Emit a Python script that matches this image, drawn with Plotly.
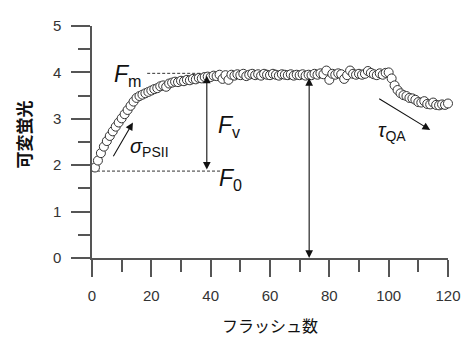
import plotly.graph_objects as go

flash = list(range(1, 121))
fluor = [
    1.95, 2.10, 2.26, 2.40, 2.52, 2.63, 2.73, 2.83, 2.92, 3.01,
    3.10, 3.19, 3.28, 3.37, 3.45, 3.49, 3.52, 3.55, 3.58, 3.61,
    3.64, 3.66, 3.70, 3.72, 3.69, 3.76, 3.78, 3.80, 3.79, 3.82,
    3.81, 3.84, 3.83, 3.86, 3.85, 3.88, 3.87, 3.90, 3.91, 3.90,
    3.93, 3.92, 3.95, 3.86, 3.94, 3.84, 3.95, 3.93, 3.96, 3.94,
    3.97, 3.92, 3.95, 3.97, 3.94, 3.96, 3.93, 3.97, 3.95, 3.94,
    3.97, 3.95, 3.93, 3.96, 3.95, 3.94, 3.96, 3.93, 3.95, 3.94,
    3.96, 3.93, 3.95, 3.94, 3.97, 3.95, 3.98, 3.96, 4.04, 3.84,
    3.97, 3.95, 3.98, 3.96, 3.86, 3.94, 4.04, 3.97, 3.95, 3.97,
    3.95, 3.97, 4.03, 3.99, 3.96, 3.94, 3.98, 3.95, 3.99, 4.00,
    3.87, 3.72, 3.62, 3.55, 3.51, 3.49, 3.45, 3.44, 3.41, 3.36,
    3.35, 3.38, 3.32, 3.31, 3.35, 3.30, 3.29, 3.31, 3.30, 3.33,
]

x_ticks = [0, 20, 40, 60, 80, 100, 120]
y_ticks = [0, 1, 2, 3, 4, 5]

F0 = 1.873
Fm = 3.98
x_title = "フラッシュ数"
y_title = "可変蛍光"

FONT = "Arial, Liberation Sans, sans-serif"
CJK = "Noto Sans CJK JP"
AX = "#555555"

fig = go.Figure()
fig.add_trace(go.Scatter(
    x=flash, y=fluor, mode="markers",
    marker=dict(symbol="circle", size=9, color="white",
                line=dict(color="#333333", width=1)),
    showlegend=False, cliponaxis=False,
))

# dashed reference lines
fig.add_shape(type="line", x0=0, x1=43.5, y0=F0, y1=F0, layer="below",
              line=dict(color="#333", width=1, dash="3px,2px"))
fig.add_shape(type="line", x0=18.6, x1=45, y0=Fm, y1=Fm, layer="below",
              line=dict(color="#333", width=1, dash="3px,2px"))

def arrow(x0, y0, x1, y1, both=False):
    fig.add_annotation(x=x1, y=y1, ax=x0, ay=y0, xref="x", yref="y",
                       axref="x", ayref="y", text="", showarrow=True,
                       arrowhead=2, arrowsize=1.4, arrowwidth=1.1,
                       arrowcolor="#111",
                       arrowside="end+start" if both else "end",
                       startarrowhead=2, startarrowsize=1.4)

arrow(38.7, F0, 38.7, 3.93, both=True)
arrow(73.2, 3.91, 73.2, 0.0, both=True)
arrow(6.9, 2.16, 13.8, 2.92)
arrow(96.3, 3.45, 114.0, 2.76)

def label(x, y, text):
    fig.add_annotation(x=x, y=y, xref="x", yref="y", text=text,
                       showarrow=False, xanchor="left", yanchor="middle",
                       font=dict(family=FONT, size=23, color="#111"))

label(6.6, 3.93, "<i>F</i><sub>m</sub>")
label(42.0, 1.70, "<i>F</i><sub>0</sub>")
label(41.9, 2.83, "<i>F</i><sub>v</sub>")
fig.add_annotation(x=12.3, y=2.38, xref="x", yref="y", text="<i>σ</i><sub>PSII</sub>",
                   showarrow=False, xanchor="left", yanchor="middle",
                   font=dict(family=FONT, size=20, color="#111"))
fig.add_annotation(x=95.6, y=2.72, xref="x", yref="y", text="<i>τ</i><sub>QA</sub>",
                   showarrow=False, xanchor="left", yanchor="middle",
                   font=dict(family=FONT, size=20, color="#111"))

# axis titles
fig.add_annotation(x=0.5, y=-0.29, xref="paper", yref="paper", text=x_title,
                   showarrow=False, xanchor="center", yanchor="middle",
                   font=dict(family=CJK, size=16, color="#111"))
fig.add_annotation(x=-0.195, y=0.53, xref="paper", yref="paper", text="<b>" + y_title + "</b>",
                   showarrow=False, xanchor="center", yanchor="middle", textangle=-90,
                   font=dict(family=CJK, size=17, color="#111"))

# page body has an 8px margin: compensate so the plot lands where the reference has it
fig.update_layout(
    width=462, height=335,
    margin=dict(l=84, r=17, t=9, b=85),
    paper_bgcolor="white", plot_bgcolor="white",
    font=dict(family=FONT, size=15, color="#333"),
    xaxis=dict(range=[0, 120], tickvals=x_ticks, ticktext=[str(v) for v in x_ticks],
               showgrid=False, zeroline=False, showline=True, linecolor=AX, linewidth=1.5,
               ticks="outside", ticklen=17, tickwidth=1.5, tickcolor=AX,
               ticklabelstandoff=6,
               minor=dict(dtick=10, tick0=0, ticks="outside", ticklen=12,
                          tickwidth=1.5, tickcolor=AX, showgrid=False),
               tickfont=dict(family=FONT, size=15, color="#333")),
    yaxis=dict(range=[0, 5], tickvals=y_ticks, ticktext=[str(v) for v in y_ticks],
               showgrid=False, zeroline=False, showline=True, linecolor=AX, linewidth=1.5,
               ticks="outside", ticklen=19, tickwidth=1.5, tickcolor=AX,
               ticklabelstandoff=7,
               minor=dict(dtick=0.5, tick0=0, ticks="outside", ticklen=12,
                          tickwidth=1.5, tickcolor=AX, showgrid=False),
               tickfont=dict(family=FONT, size=15, color="#333")),
)

fig.write_html("out.html")
